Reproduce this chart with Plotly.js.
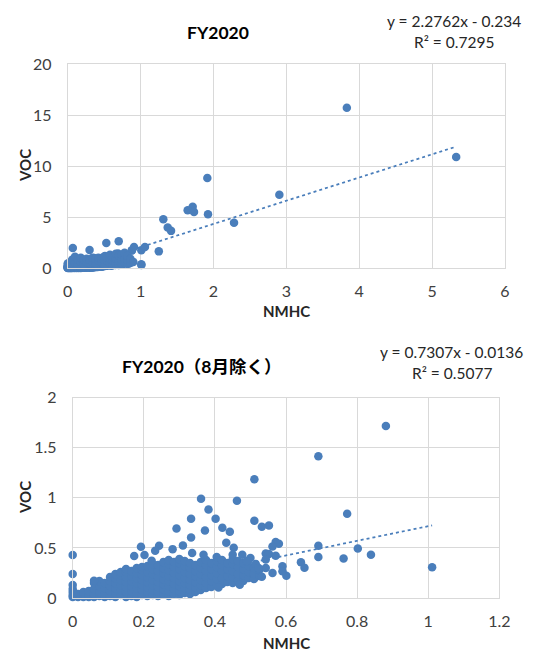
<!DOCTYPE html>
<html>
<head>
<meta charset="utf-8">
<script src="https://cdn.plot.ly/plotly-3.0.1.min.js"></script>
<style>html,body{margin:0;padding:0;background:#fff;}#chart{width:541px;height:655px;}</style>
</head>
<body>
<div id="chart"></div>
<script>
// ---------- DATA ----------
// Non-August points (dense cluster), [NMHC, VOC]
const nonAugCluster = [
[0,0.01],[0,0.03],[0,0.06],[0,0.09],[0,0.13],[0,0.24],[0,0.43],
[0.005,0.02],[0.005,0.05],
[0.015,0.01],[0.015,0.04],
[0.03,0.01],[0.03,0.04],[0.03,0.06],
[0.045,0.01],[0.045,0.03],[0.045,0.07],
[0.06,0.01],[0.06,0.04],[0.06,0.09],[0.06,0.15],
[0.075,0.02],[0.075,0.06],[0.075,0.12],[0.075,0.17],
[0.09,0.01],[0.09,0.05],[0.09,0.10],[0.09,0.15],
[0.105,0.02],[0.105,0.07],[0.105,0.12],[0.105,0.17],[0.105,0.21],
[0.12,0.01],[0.12,0.05],[0.12,0.10],[0.12,0.15],[0.12,0.20],[0.12,0.24],
[0.135,0.03],[0.135,0.08],[0.135,0.13],[0.135,0.18],[0.135,0.23],[0.135,0.26],
[0.15,0.01],[0.15,0.06],[0.15,0.11],[0.15,0.16],[0.15,0.21],[0.15,0.26],[0.15,0.29],
[0.165,0.02],[0.165,0.07],[0.165,0.12],[0.165,0.17],[0.165,0.22],[0.165,0.27],
[0.18,0.01],[0.18,0.05],[0.18,0.10],[0.18,0.15],[0.18,0.20],[0.18,0.25],[0.18,0.30],
[0.195,0.03],[0.195,0.08],[0.195,0.13],[0.195,0.18],[0.195,0.23],[0.195,0.28],[0.195,0.31],
[0.21,0.02],[0.21,0.06],[0.21,0.11],[0.21,0.16],[0.21,0.21],[0.21,0.26],[0.21,0.32],
[0.225,0.03],[0.225,0.08],[0.225,0.13],[0.225,0.18],[0.225,0.24],[0.225,0.29],[0.225,0.34],
[0.24,0.02],[0.24,0.06],[0.24,0.11],[0.24,0.16],[0.24,0.21],[0.24,0.27],[0.24,0.33],
[0.255,0.04],[0.255,0.09],[0.255,0.14],[0.255,0.19],[0.255,0.25],[0.255,0.30],[0.255,0.36],
[0.27,0.02],[0.27,0.07],[0.27,0.12],[0.27,0.17],[0.27,0.22],[0.27,0.28],[0.27,0.34],[0.27,0.38],
[0.285,0.04],[0.285,0.09],[0.285,0.14],[0.285,0.20],[0.285,0.25],[0.285,0.31],[0.285,0.36],
[0.30,0.03],[0.30,0.07],[0.30,0.12],[0.30,0.17],[0.30,0.23],[0.30,0.29],[0.30,0.35],[0.30,0.39],
[0.315,0.05],[0.315,0.10],[0.315,0.15],[0.315,0.20],[0.315,0.26],[0.315,0.32],[0.315,0.37],
[0.33,0.04],[0.33,0.08],[0.33,0.13],[0.33,0.18],[0.33,0.24],[0.33,0.30],[0.33,0.35],
[0.345,0.06],[0.345,0.11],[0.345,0.16],[0.345,0.22],[0.345,0.27],[0.345,0.33],
[0.36,0.08],[0.36,0.13],[0.36,0.18],[0.36,0.24],[0.36,0.30],[0.36,0.36],
[0.375,0.10],[0.375,0.15],[0.375,0.21],[0.375,0.27],[0.375,0.33],[0.375,0.38],
[0.39,0.11],[0.39,0.17],[0.39,0.23],[0.39,0.29],[0.39,0.35],
[0.405,0.13],[0.405,0.19],[0.405,0.25],[0.405,0.31],[0.405,0.37],[0.405,0.41],
[0.42,0.14],[0.42,0.20],[0.42,0.27],[0.42,0.33],[0.42,0.38],
[0.435,0.16],[0.435,0.22],[0.435,0.29],[0.435,0.35],
[0.45,0.15],[0.45,0.21],[0.45,0.27],[0.45,0.34],[0.45,0.39],
[0.465,0.18],[0.465,0.24],[0.465,0.31],[0.465,0.37],
[0.48,0.17],[0.48,0.23],[0.48,0.29],[0.48,0.35],
[0.495,0.20],[0.495,0.26],[0.495,0.32],
[0.51,0.19],[0.51,0.24],[0.51,0.30],
[0.525,0.22],[0.525,0.28]
];
// Non-August scattered points, [NMHC, VOC]
const nonAugOutliers = [
[0.881,1.718],[0.691,1.415],[0.511,1.186],[0.361,0.990],[0.462,0.970],[0.382,0.884],
[0.772,0.841],[0.333,0.791],[0.402,0.791],[0.511,0.771],[0.532,0.711],[0.552,0.724],
[0.292,0.694],[0.372,0.674],[0.421,0.701],[0.442,0.661],[0.333,0.605],[0.432,0.551],
[0.453,0.502],[0.571,0.560],[0.580,0.541],[0.562,0.515],[0.691,0.522],[0.802,0.495],
[0.839,0.432],[0.691,0.409],[0.762,0.395],[1.011,0.306],[0.642,0.358],[0.652,0.302],
[0.590,0.316],[0.601,0.223],[0.590,0.266],[0.543,0.445],[0.552,0.439],[0.571,0.422],
[0.543,0.385],[0.543,0.299],[0.562,0.249],[0.532,0.212],[0.192,0.512],[0.243,0.522],
[0.232,0.472],[0.281,0.488],[0.310,0.525],[0.173,0.419],[0.202,0.429],[0.222,0.372],
[0.410,0.106],[0.470,0.133],[0.450,0.433],[0.368,0.433],[0.336,0.450],[0.477,0.433],
[0.500,0.400],[0.490,0.370],[0.515,0.340],[0.523,0.300],[0.060,0.173]
];
// August-only points (shown in FY2020 total), [NMHC, VOC]
const augPts = [
[3.83,15.70],[5.33,10.89],[1.916,8.82],[2.904,7.18],[1.715,6.00],[1.646,5.67],
[1.733,5.48],[1.925,5.28],[1.312,4.79],[2.282,4.43],[1.372,3.97],[1.418,3.64],
[0.07,1.97],[0.30,1.76],[0.53,2.45],[0.70,2.63],[0.88,1.75],[0.91,2.05],
[1.01,1.74],[1.06,2.07],[1.25,1.63],[1.01,0.36],
[0.02,0.5],[0.06,0.3],[0.06,0.8],[0.10,0.5],[0.10,1.1],[0.14,0.3],[0.14,0.8],
[0.18,0.6],[0.18,1.0],[0.22,0.4],[0.22,0.8],[0.26,0.6],[0.26,0.9],[0.30,0.5],
[0.30,0.8],[0.34,0.6],[0.34,1.0],[0.38,0.5],[0.38,0.9],[0.42,0.7],[0.42,1.0],
[0.46,0.6],[0.46,0.9],[0.50,0.4],[0.50,0.8],[0.50,1.1],[0.54,0.3],[0.54,0.7],
[0.54,1.0],[0.58,0.5],[0.58,0.9],[0.58,1.3],[0.62,0.3],[0.62,0.7],[0.62,1.1],
[0.66,0.5],[0.66,0.9],[0.66,1.4],[0.70,0.3],[0.70,0.7],[0.70,1.2],[0.74,0.4],
[0.74,0.8],[0.74,1.3],[0.78,0.5],[0.78,0.9],[0.78,1.5],[0.82,0.4],[0.82,0.8],
[0.82,1.2],[0.86,0.5],[0.86,0.9],[0.90,0.6]
];
// Trendline coefficients (from chart labels) and x-extent
const trendAll = {slope: 2.2762, intercept: -0.234, xmin: 0, xmax: 5.33};
const trendExAug = {slope: 0.7307, intercept: -0.0136, xmin: 0, xmax: 1.011};
const eqTextAll = ["y = 2.2762x - 0.234", "R² = 0.7295"];
const eqTextExAug = ["y = 0.7307x - 0.0136", "R² = 0.5077"];
const titles = ["FY2020", "FY2020（8月除く）"];
const xTicksTop = [0,1,2,3,4,5,6];
const yTicksTop = [0,5,10,15,20];
const xTicksBot = [0,0.2,0.4,0.6,0.8,1,1.2];
const xTickTextBot = ["0","0.2","0.4","0.6","0.8","1","1.2"];
const yTicksBot = [0,0.5,1,1.5,2];
const yTickTextBot = ["0","0.5","1","1.5","2"];

// ---------- BUILD ----------
const nonAug = nonAugCluster.concat(nonAugOutliers);
const allPts = nonAug.concat(augPts);
const BLUE = '#4A7EBB';
const FONT = 'Lato, "Noto Sans CJK JP", sans-serif';
const GRID = '#D9D9D9';

function trendTrace(t, xa, ya){
  return {x:[t.xmin,t.xmax], y:[t.slope*t.xmin+t.intercept, t.slope*t.xmax+t.intercept],
    mode:'lines', line:{color:BLUE, width:1.75, dash:'dot'}, xaxis:xa, yaxis:ya,
    hoverinfo:'skip', showlegend:false};
}
function ptsTrace(p, xa, ya){
  return {x:p.map(d=>d[0]), y:p.map(d=>d[1]), mode:'markers', type:'scatter',
    marker:{color:BLUE, size:8.5}, xaxis:xa, yaxis:ya, cliponaxis:false, showlegend:false};
}

const data = [
  trendTrace(trendAll,'x','y'),
  ptsTrace(allPts,'x','y'),
  trendTrace(trendExAug,'x2','y2'),
  ptsTrace(nonAug,'x2','y2')
];

const W=541, H=655;
function dx(px){return px/W;}
function dy(py){return 1-py/H;}
const axCommon = {showgrid:true, gridcolor:GRID, gridwidth:1, zeroline:false,
  showline:true, mirror:true, linecolor:GRID, linewidth:1, ticks:'', fixedrange:true,
  tickfont:{family:FONT, size:16, color:'#404040'}};

const layout = {
  width:W, height:H, margin:{l:0,r:0,t:0,b:0}, paper_bgcolor:'#fff', plot_bgcolor:'#fff',
  showlegend:false,
  xaxis: Object.assign({}, axCommon, {domain:[dx(67.7),dx(505)], range:[0,6], tickmode:'array',
    tickvals:xTicksTop, anchor:'y', ticklabelstandoff:9}),
  yaxis: Object.assign({}, axCommon, {domain:[dy(268),dy(64)], range:[0,20], tickmode:'array',
    tickvals:yTicksTop, anchor:'x', ticklabelstandoff:12}),
  xaxis2: Object.assign({}, axCommon, {domain:[dx(72.7),dx(499.3)], range:[0,1.2], tickmode:'array',
    tickvals:xTicksBot, ticktext:xTickTextBot, anchor:'y2', ticklabelstandoff:9}),
  yaxis2: Object.assign({}, axCommon, {domain:[dy(598),dy(397.7)], range:[0,2], tickmode:'array',
    tickvals:yTicksBot, ticktext:yTickTextBot, anchor:'x2', ticklabelstandoff:12}),
  annotations: []
};
function ann(text, px, py, opts){
  layout.annotations.push(Object.assign({text:text, x:dx(px), y:dy(py), xref:'paper', yref:'paper',
    xanchor:'center', yanchor:'middle', showarrow:false,
    font:{family:FONT, size:15.5, color:'#262626'}}, opts||{}));
}
ann('<b>'+titles[0]+'</b>', 218, 33, {font:{family:FONT, size:17.5, color:'#000'}});
ann('<b>'+titles[1]+'</b>', 202, 367, {font:{family:FONT, size:17.5, color:'#000'}});
ann(eqTextAll[0], 454, 21);
ann(eqTextAll[1], 454, 42);
ann(eqTextExAug[0], 451, 352);
ann(eqTextExAug[1], 452, 373);
ann('<b>NMHC</b>', 286, 311, {font:{family:FONT, size:15, color:'#262626'}});
ann('<b>NMHC</b>', 286, 654, {yanchor:'bottom', font:{family:FONT, size:15, color:'#262626'}});
ann('<b>VOC</b>', 25, 166, {textangle:-90, font:{family:FONT, size:15, color:'#262626'}});
ann('<b>VOC</b>', 25, 498, {textangle:-90, font:{family:FONT, size:15, color:'#262626'}});

Plotly.newPlot('chart', data, layout, {staticPlot:true, displayModeBar:false});
</script>
</body>
</html>
